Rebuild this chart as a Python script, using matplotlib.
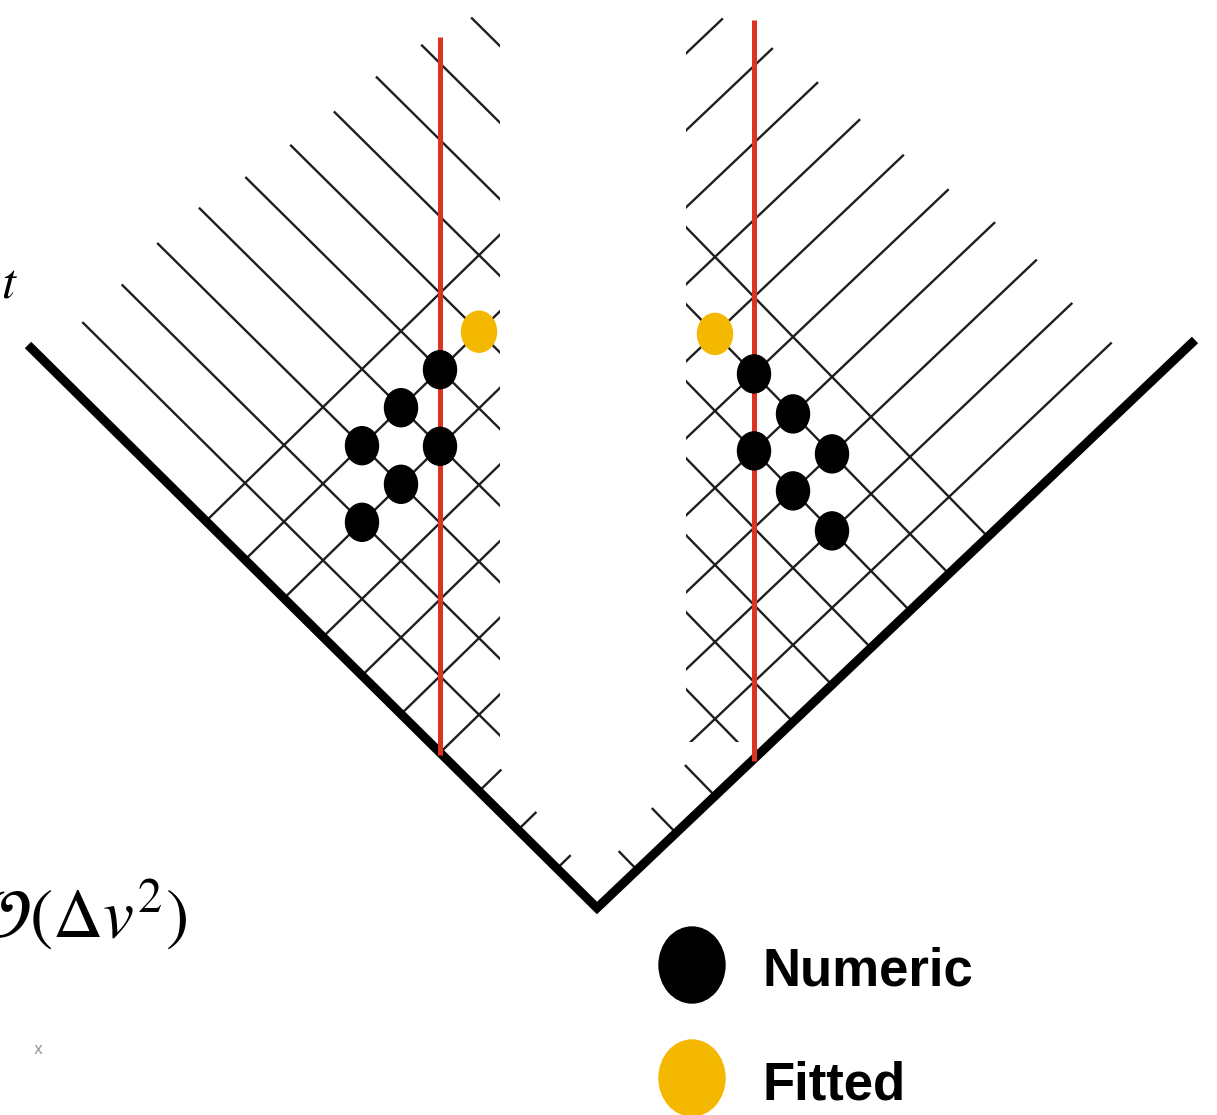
import numpy as np
import matplotlib.pyplot as plt
from matplotlib.patches import Ellipse, Rectangle

plt.rcParams['mathtext.fontset'] = 'stix'

# grid cells holding the points: k = line parallel to the boundary, j = line leaving it
numeric_k = [5, 4, 3, 4, 3, 2]
numeric_j = [0, 0, 0, 1, 1, 1]
fitted_k = [6]
fitted_j = [0]

# lines parallel to the boundary and where (in j) each one begins
row_k = np.arange(1, 11)
row_start_j = [-5.15, -5.14, -5.23, -5.16, -4.97, -4.82, -4.70, -4.62, -4.46, -4.18]
# lines leaving the boundary, plus the short ticks near the corner
ray_j = np.arange(-1, 6)
stub_j = [6, 7, 8]

labels = ['Numeric', 'Fitted']
colors = ['black', '#F5B800']
dot_size = [(33, 38), (35, 41)]
red = '#DD3322'
grid_c = '#1e1e1e'

# two half-diagrams: origin = foot of the red line (k=0, j=5), a/b = lattice steps
panels = [
    dict(origin=(440, 752.7), a=(39, -38), b=(39, 38.6), red_top=37,
         clip=(0, 0, 500, 1115), stub_len=[0.55, 0.45, 0.33]),
    dict(origin=(754, 758.9), a=(-39, -40), b=(-39, 37), red_top=20,
         clip=(686, 0, 531, 742), stub_len=[0.75, 0.6, 0.45]),
]


def pt(p, k, j):
    o, a, b = np.array(p['origin']), np.array(p['a']), np.array(p['b'])
    return o + np.multiply.outer(k, a) + np.multiply.outer(np.asarray(j) - 5, b)


fig = plt.figure(figsize=(12.17, 11.15), dpi=100)
ax = fig.add_axes([0, 0, 1, 1])
ax.set_xlim(0, 1217)
ax.set_ylim(1115, 0)
ax.axis('off')

for p in panels:
    cx, cy, cw, ch = p['clip']
    box = Rectangle((cx, cy), cw, ch, transform=ax.transData, fill=False)

    for k, j0 in zip(row_k, row_start_j):
        seg = pt(p, k, np.array([j0, 14.0]))
        ln, = ax.plot(seg[:, 0], seg[:, 1], color=grid_c, lw=1.7, zorder=1)
        ln.set_clip_path(box)

    for j in ray_j:
        seg = pt(p, np.array([0.0, 14.0]), j)
        ln, = ax.plot(seg[:, 0], seg[:, 1], color=grid_c, lw=1.7, zorder=1)
        ln.set_clip_path(box)

    for j, length in zip(stub_j, p['stub_len']):
        seg = pt(p, np.array([0.0, length]), j)
        ax.plot(seg[:, 0], seg[:, 1], color=grid_c, lw=1.7, zorder=1)

    ox, oy = p['origin']
    ax.plot([ox, ox], [p['red_top'], oy + 2], color=red, lw=3.6,
            solid_capstyle='butt', zorder=4)

    groups = [(numeric_k, numeric_j), (fitted_k, fitted_j)]
    for (ks, js), c, (w, h) in zip(groups, colors, dot_size):
        for k, j in zip(ks, js):
            x, y = pt(p, k, j)
            dot = ax.add_patch(Ellipse((x, y), w, h, color=c, zorder=5))
            dot.set_clip_path(box)

# light-cone boundary
ax.plot([28, 597, 1195], [345, 908, 340], color='black', lw=6.5,
        solid_joinstyle='miter', solid_capstyle='butt', zorder=3)

ax.text(1, 298, '$t$', fontsize=36, ha='left', va='baseline')
ax.text(187, 938, r'$\mathcal{O}(\Delta v^2)$', fontsize=50, ha='right', va='baseline')
ax.text(38, 1049, 'x', fontsize=11, color='#999999', ha='center', va='center')

# legend
for i, (lab, c) in enumerate(zip(labels, colors)):
    y = 965 + 113 * i
    ax.add_patch(Ellipse((692, y), 66, 76, color=c, zorder=5))
    ax.text(762, y + 21, lab, fontsize=38, fontweight='bold',
            family='Liberation Sans', ha='left', va='baseline')

fig.savefig('out.png', dpi=100)
